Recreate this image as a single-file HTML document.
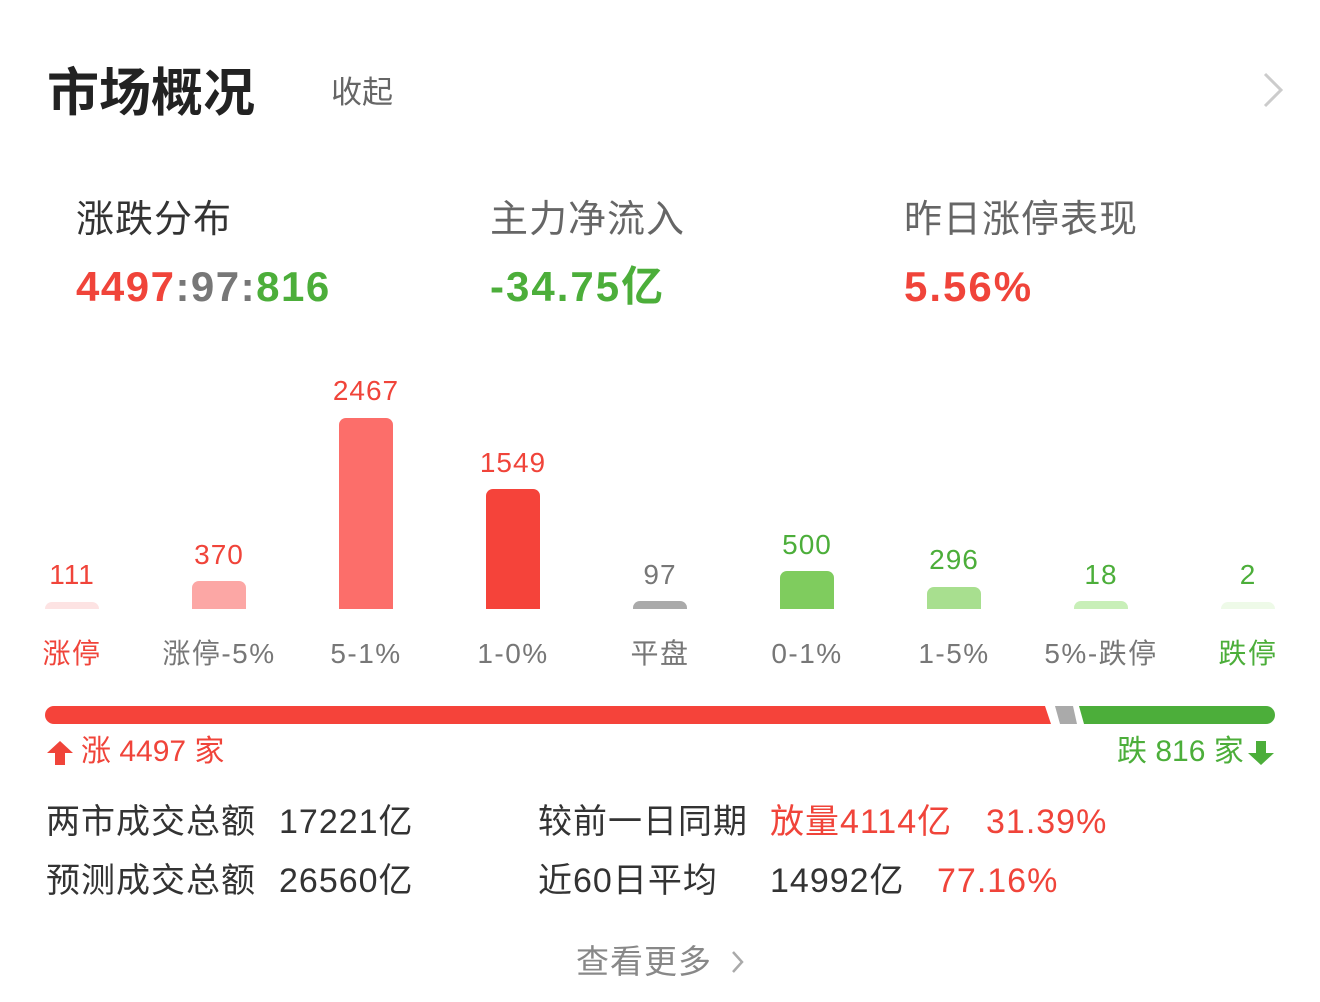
<!DOCTYPE html>
<html><head><meta charset="utf-8"><style>
body{margin:0;width:1320px;height:1002px;background:#fff;font-family:"Liberation Sans","Noto Sans CJK SC",sans-serif;position:relative;overflow:hidden}
.a{position:absolute;white-space:nowrap;line-height:1}
.bar{position:absolute;width:54px;border-radius:7px 7px 0 0}
.v{position:absolute;width:120px;text-align:center;font-size:28px;line-height:1;letter-spacing:1px}
.l{position:absolute;width:160px;text-align:center;font-size:28px;top:639px;line-height:30px;height:30px;color:#777;letter-spacing:1.5px;white-space:nowrap}
.t{font-size:34px;color:#333;letter-spacing:1px}
.r,.t.r{color:#f0443a}.g,.t.g{color:#4cae3a}
</style></head><body>
<div class="a" style="left:47px;top:68px;font-size:52px;font-weight:bold;color:#222">市场概况</div>
<div class="a" style="left:331px;top:77px;font-size:31px;color:#666">收起</div>
<svg class="a" style="left:1262px;top:72px" width="22" height="36"><path d="M3 2 L19 18 L3 34" stroke="#ccc" stroke-width="3" fill="none"/></svg>

<div class="a" style="left:76px;top:201px;font-size:38px;color:#333;letter-spacing:1px">涨跌分布</div>
<div class="a" style="left:76px;top:266px;font-size:42px;font-weight:bold;letter-spacing:1.5px"><span class="r">4497</span><span style="color:#777">:97:</span><span class="g">816</span></div>
<div class="a" style="left:490px;top:201px;font-size:38px;color:#666;letter-spacing:1px">主力净流入</div>
<div class="a g" style="left:490px;top:266px;font-size:42px;font-weight:bold;letter-spacing:2px">-34.75亿</div>
<div class="a" style="left:904px;top:201px;font-size:38px;color:#666;letter-spacing:1px">昨日涨停表现</div>
<div class="a r" style="left:904px;top:266px;font-size:42px;font-weight:bold;letter-spacing:2px">5.56%</div>

<div class="bar" style="left:45px;top:602px;height:7px;background:#fde3e3"></div>
<div class="bar" style="left:192px;top:581px;height:28px;background:#fca7a5"></div>
<div class="bar" style="left:339px;top:418px;height:191px;background:#fc6e6a"></div>
<div class="bar" style="left:486px;top:489px;height:120px;background:#f5433a"></div>
<div class="bar" style="left:633px;top:601px;height:8px;background:#aaa"></div>
<div class="bar" style="left:780px;top:571px;height:38px;background:#7fcc5e"></div>
<div class="bar" style="left:927px;top:587px;height:22px;background:#a8df8f"></div>
<div class="bar" style="left:1074px;top:601px;height:8px;background:#c8efb8"></div>
<div class="bar" style="left:1221px;top:602px;height:7px;background:#eefae8"></div>

<div class="v r" style="left:12px;top:561px">111</div>
<div class="v r" style="left:159px;top:541px">370</div>
<div class="v r" style="left:306px;top:377px">2467</div>
<div class="v r" style="left:453px;top:449px">1549</div>
<div class="v" style="left:600px;top:561px;color:#777">97</div>
<div class="v g" style="left:747px;top:531px">500</div>
<div class="v g" style="left:894px;top:546px">296</div>
<div class="v g" style="left:1041px;top:561px">18</div>
<div class="v g" style="left:1188px;top:561px">2</div>

<div class="l" style="left:-8px;color:#f0443a">涨停</div>
<div class="l" style="left:139px">涨停-5%</div>
<div class="l" style="left:286px">5-1%</div>
<div class="l" style="left:433px">1-0%</div>
<div class="l" style="left:580px">平盘</div>
<div class="l" style="left:727px">0-1%</div>
<div class="l" style="left:874px">1-5%</div>
<div class="l" style="left:1021px">5%-跌停</div>
<div class="l" style="left:1168px;color:#4cae3a">跌停</div>

<svg class="a" style="left:45px;top:706px" width="1231" height="18">
<path d="M9 0 H1000 L1006 18 H9 A9 9 0 0 1 9 0Z" fill="#f5433a"/>
<path d="M1010 0 H1028 L1032 18 H1015Z" fill="#aaa"/>
<path d="M1034 0 H1221 A9 9 0 0 1 1221 18 H1039Z" fill="#4cae3a"/>
</svg>
<svg class="a" style="left:46px;top:740px" width="28" height="26"><path d="M14 1 L27 13 H19 V25 H9 V13 H1Z" fill="#f0443a"/></svg>
<div class="a r" style="left:81px;top:737px;font-size:30px">涨 4497 家</div>
<div class="a g" style="left:1117px;top:737px;font-size:30px">跌 816 家</div>
<svg class="a" style="left:1247px;top:740px" width="28" height="26"><path d="M14 25 L27 13 H19 V1 H9 V13 H1Z" fill="#4cae3a"/></svg>

<div class="a t" style="left:46px;top:805px">两市成交总额</div>
<div class="a t" style="left:279px;top:805px">17221亿</div>
<div class="a t" style="left:46px;top:864px">预测成交总额</div>
<div class="a t" style="left:279px;top:864px">26560亿</div>
<div class="a t" style="left:538px;top:805px">较前一日同期</div>
<div class="a t r" style="left:770px;top:805px">放量4114亿</div>
<div class="a t r" style="left:986px;top:805px">31.39%</div>
<div class="a t" style="left:538px;top:864px">近60日平均</div>
<div class="a t" style="left:770px;top:864px">14992亿</div>
<div class="a t r" style="left:937px;top:864px">77.16%</div>
<div class="a" style="left:576px;top:945px;font-size:33px;color:#888;letter-spacing:1px">查看更多</div>
<svg class="a" style="left:730px;top:949px" width="16" height="26"><path d="M3 3 L12 13 L3 23" stroke="#aaa" stroke-width="2.5" fill="none"/></svg>
</body></html>
